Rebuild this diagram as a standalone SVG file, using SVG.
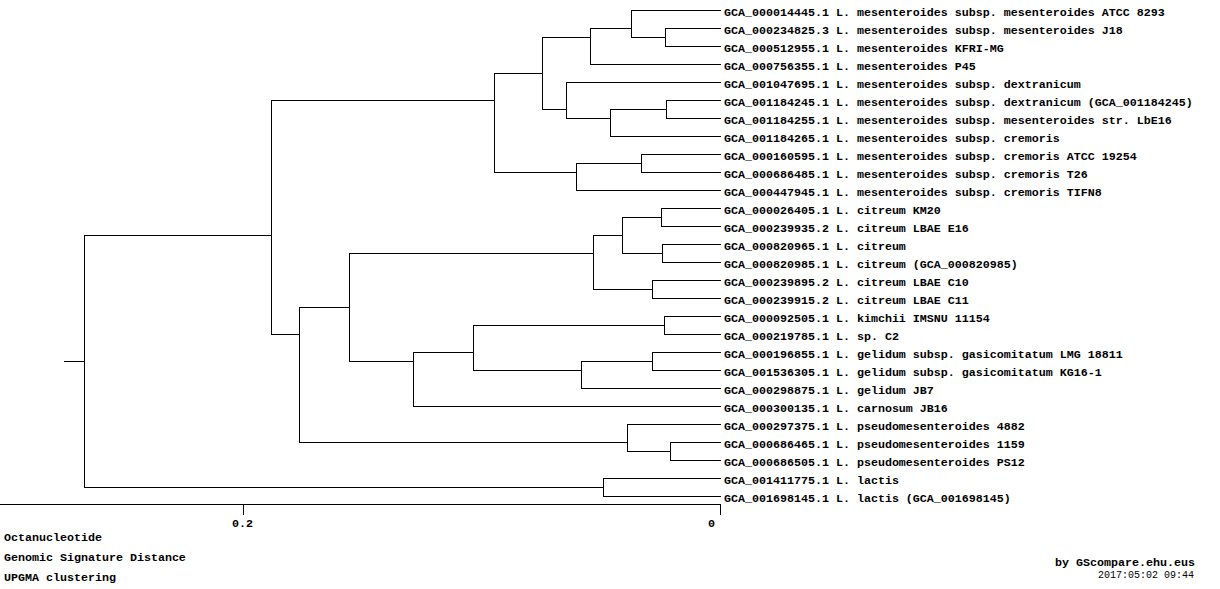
<svg xmlns="http://www.w3.org/2000/svg" width="1220" height="589" viewBox="0 0 1220 589">
<style>
.t{font-family:"Liberation Mono","DejaVu Sans Mono",monospace;font-size:11.66px;font-weight:bold;fill:#000}
.d{font-family:"Liberation Mono","DejaVu Sans Mono",monospace;font-size:10px;fill:#000}
.c{fill:none;stroke:#000;stroke-width:1;stroke-linecap:square;shape-rendering:crispEdges}
</style>
<rect width="1220" height="589" fill="#fff"/>
<g id="connectors" class="c">
<path d="M631.5 10.5H720.5M665.5 28.5H720.5M665.5 46.5H720.5M590.5 64.5H720.5M566.5 82.5H720.5M666.5 100.5H720.5M666.5 118.5H720.5M610.5 136.5H720.5M641.5 154.5H720.5M641.5 172.5H720.5M576.5 190.5H720.5M661.5 208.5H720.5M661.5 226.5H720.5M662.5 244.5H720.5M662.5 262.5H720.5M652.5 280.5H720.5M652.5 298.5H720.5M664.5 316.5H720.5M664.5 334.5H720.5M652.5 352.5H720.5M652.5 370.5H720.5M581.5 388.5H720.5M413.5 406.5H720.5M627.5 424.5H720.5M670.5 442.5H720.5M670.5 460.5H720.5M603.5 478.5H720.5M603.5 496.5H720.5"/>
<path d="M665.5 28.5V46.5M631.5 37.5H665.5"/>
<path d="M631.5 10.5V37.5M590.5 28.5H631.5"/>
<path d="M590.5 28.5V64.5M542.5 37.5H590.5"/>
<path d="M666.5 100.5V118.5M610.5 109.5H666.5"/>
<path d="M610.5 109.5V136.5M566.5 118.5H610.5"/>
<path d="M566.5 82.5V118.5M542.5 109.5H566.5"/>
<path d="M542.5 37.5V109.5M494.5 73.5H542.5"/>
<path d="M641.5 154.5V172.5M576.5 163.5H641.5"/>
<path d="M576.5 163.5V190.5M494.5 172.5H576.5"/>
<path d="M494.5 73.5V172.5M271.5 100.5H494.5"/>
<path d="M661.5 208.5V226.5M622.5 217.5H661.5"/>
<path d="M662.5 244.5V262.5M622.5 253.5H662.5"/>
<path d="M622.5 217.5V253.5M593.5 235.5H622.5"/>
<path d="M652.5 280.5V298.5M593.5 289.5H652.5"/>
<path d="M593.5 235.5V289.5M349.5 253.5H593.5"/>
<path d="M664.5 316.5V334.5M473.5 325.5H664.5"/>
<path d="M652.5 352.5V370.5M581.5 361.5H652.5"/>
<path d="M581.5 361.5V388.5M473.5 370.5H581.5"/>
<path d="M473.5 325.5V370.5M413.5 352.5H473.5"/>
<path d="M413.5 352.5V406.5M349.5 361.5H413.5"/>
<path d="M349.5 253.5V361.5M299.5 307.5H349.5"/>
<path d="M670.5 442.5V460.5M627.5 451.5H670.5"/>
<path d="M627.5 424.5V451.5M299.5 442.5H627.5"/>
<path d="M299.5 307.5V442.5M271.5 334.5H299.5"/>
<path d="M271.5 100.5V334.5M84.5 235.5H271.5"/>
<path d="M603.5 478.5V496.5M84.5 487.5H603.5"/>
<path d="M84.5 235.5V487.5M64.5 361.5H84.5"/>
</g>
<g id="leaves" class="t">
<g id="n0"><text x="724" y="16">GCA_000014445.1 L. mesenteroides subsp. mesenteroides ATCC 8293</text></g>
<g id="n1"><text x="724" y="34">GCA_000234825.3 L. mesenteroides subsp. mesenteroides J18</text></g>
<g id="n2"><text x="724" y="52">GCA_000512955.1 L. mesenteroides KFRI-MG</text></g>
<g id="n3"><text x="724" y="70">GCA_000756355.1 L. mesenteroides P45</text></g>
<g id="n4"><text x="724" y="88">GCA_001047695.1 L. mesenteroides subsp. dextranicum</text></g>
<g id="n5"><text x="724" y="106">GCA_001184245.1 L. mesenteroides subsp. dextranicum (GCA_001184245)</text></g>
<g id="n6"><text x="724" y="124">GCA_001184255.1 L. mesenteroides subsp. mesenteroides str. LbE16</text></g>
<g id="n7"><text x="724" y="142">GCA_001184265.1 L. mesenteroides subsp. cremoris</text></g>
<g id="n8"><text x="724" y="160">GCA_000160595.1 L. mesenteroides subsp. cremoris ATCC 19254</text></g>
<g id="n9"><text x="724" y="178">GCA_000686485.1 L. mesenteroides subsp. cremoris T26</text></g>
<g id="n10"><text x="724" y="196">GCA_000447945.1 L. mesenteroides subsp. cremoris TIFN8</text></g>
<g id="n11"><text x="724" y="214">GCA_000026405.1 L. citreum KM20</text></g>
<g id="n12"><text x="724" y="232">GCA_000239935.2 L. citreum LBAE E16</text></g>
<g id="n13"><text x="724" y="250">GCA_000820965.1 L. citreum</text></g>
<g id="n14"><text x="724" y="268">GCA_000820985.1 L. citreum (GCA_000820985)</text></g>
<g id="n15"><text x="724" y="286">GCA_000239895.2 L. citreum LBAE C10</text></g>
<g id="n16"><text x="724" y="304">GCA_000239915.2 L. citreum LBAE C11</text></g>
<g id="n17"><text x="724" y="322">GCA_000092505.1 L. kimchii IMSNU 11154</text></g>
<g id="n18"><text x="724" y="340">GCA_000219785.1 L. sp. C2</text></g>
<g id="n19"><text x="724" y="358">GCA_000196855.1 L. gelidum subsp. gasicomitatum LMG 18811</text></g>
<g id="n20"><text x="724" y="376">GCA_001536305.1 L. gelidum subsp. gasicomitatum KG16-1</text></g>
<g id="n21"><text x="724" y="394">GCA_000298875.1 L. gelidum JB7</text></g>
<g id="n22"><text x="724" y="412">GCA_000300135.1 L. carnosum JB16</text></g>
<g id="n23"><text x="724" y="430">GCA_000297375.1 L. pseudomesenteroides 4882</text></g>
<g id="n24"><text x="724" y="448">GCA_000686465.1 L. pseudomesenteroides 1159</text></g>
<g id="n25"><text x="724" y="466">GCA_000686505.1 L. pseudomesenteroides PS12</text></g>
<g id="n26"><text x="724" y="484">GCA_001411775.1 L. lactis</text></g>
<g id="n27"><text x="724" y="502">GCA_001698145.1 L. lactis (GCA_001698145)</text></g>
</g>
<g id="axis">
<path class="c" d="M0.5 504.5H720.5M243.5 504.5V514.5M720.5 504.5V514.5"/>
<text class="t" x="232" y="527">0.2</text>
<text class="t" x="708" y="527">0</text>
</g>
<g id="caption" class="t">
<text x="4" y="541">Octanucleotide</text>
<text x="4" y="561">Genomic Signature Distance</text>
<text x="4" y="581">UPGMA clustering</text>
<text x="1195" y="565.5" text-anchor="end">by GScompare.ehu.eus</text>
</g>
<text class="d" x="1194" y="578" text-anchor="end">2017:05:02 09:44</text>
</svg>
